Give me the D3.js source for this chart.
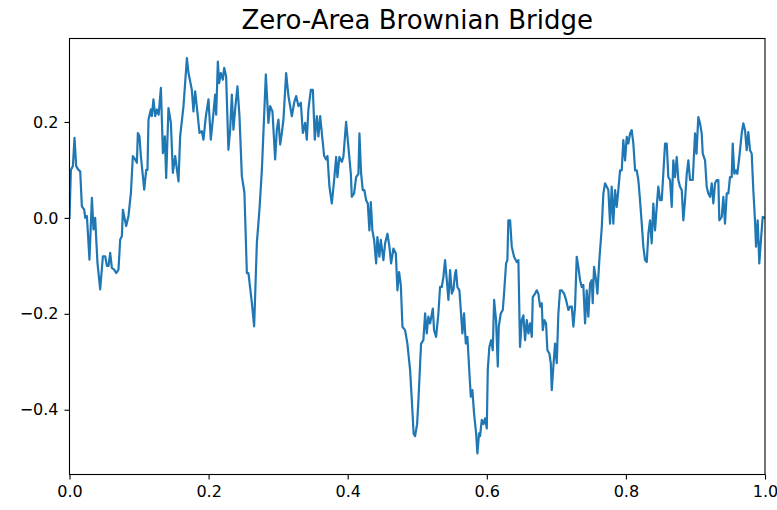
<!DOCTYPE html>
<html><head><meta charset="utf-8">
<script src="https://cdn.jsdelivr.net/npm/d3@7"></script>
<style>body{margin:0;background:#fff}svg{display:block}</style>
</head><body>
<script>
const chartTitle = "Zero-Area Brownian Bridge";
const xTicks = [0, 0.2, 0.4, 0.6, 0.8, 1.0];
const yTicks = [-0.4, -0.2, 0.0, 0.2];

const tValues = [
0,0.002,0.0049,0.0072,0.0096,0.0129,0.0154,0.0178,0.0211,0.0226,0.0250,0.0287,0.0322,0.0345,0.0369,0.0402,0.0441,0.0480,0.0513,0.0538,
0.0561,0.0585,0.0609,0.0643,0.0671,0.0704,0.0729,0.0753,0.0768,0.0791,0.0815,0.0848,0.0883,0.0911,0.0944,0.0969,0.0983,0.1006,0.1026,0.1055,
0.1074,0.1103,0.1121,0.1136,0.1170,0.1184,0.1207,0.1232,0.1256,0.1282,0.1314,0.1343,0.1371,0.1390,0.1423,0.1458,0.1486,0.1519,0.1567,0.1591,
0.1639,0.1688,0.1711,0.1759,0.1782,0.1807,0.1840,0.1869,0.1903,0.1926,0.1961,0.1998,0.2032,0.2070,0.2094,0.2109,0.2133,0.2152,0.2176,0.2205,
0.2224,0.2252,0.2285,0.2310,0.2334,0.2357,0.2386,0.2415,0.2444,0.2478,0.2501,0.2515,0.2550,0.2573,0.2622,0.2655,0.2694,0.2731,0.2766,0.2823,
0.2860,0.2885,0.2918,0.2957,0.2981,0.3004,0.3029,0.3053,0.3076,0.3115,0.3148,0.3197,0.3230,0.3259,0.3292,0.3326,0.3355,0.3388,0.3412,0.3435,
0.3470,0.3499,0.3527,0.3556,0.3579,0.3604,0.3628,0.3661,0.3690,0.3709,0.3737,0.3772,0.3805,0.3834,0.3852,0.3881,0.3916,0.3938,0.3977,0.4010,
0.4045,0.4059,0.4092,0.4121,0.4154,0.4169,0.4193,0.4217,0.4240,0.4265,0.4289,0.4312,0.4332,0.4355,0.4380,0.4409,0.4427,0.4456,0.4476,0.4513,
0.4538,0.4571,0.4600,0.4624,0.4657,0.4692,0.4715,0.4739,0.4764,0.4787,0.4825,0.4858,0.4897,0.4922,0.4948,0.4969,0.4998,0.5017,0.5055,0.5088,
0.5113,0.5137,0.5160,0.5185,0.5224,0.5242,0.5271,0.5304,0.5328,0.5353,0.5376,0.5400,0.5425,0.5448,0.5472,0.5497,0.5520,0.5544,0.5558,0.5577,
0.5606,0.5626,0.5649,0.5673,0.5698,0.5721,0.5750,0.5770,0.5793,0.5817,0.5846,0.5865,0.5889,0.5903,0.5928,0.5951,0.5975,0.6000,0.6014,0.6037,
0.6062,0.6086,0.6105,0.6133,0.6158,0.6172,0.6201,0.6230,0.6248,0.6277,0.6296,0.6310,0.6335,0.6359,0.6392,0.6431,0.6454,0.6478,0.6503,0.6526,
0.6550,0.6575,0.6598,0.6622,0.6647,0.6661,0.6694,0.6718,0.6741,0.6766,0.6790,0.6805,0.6828,0.6852,0.6871,0.6900,0.6920,0.6934,0.6957,0.6981,
0.7006,0.7029,0.7053,0.7078,0.7111,0.7140,0.7173,0.7197,0.7222,0.7245,0.7269,0.7293,0.7316,0.7341,0.7365,0.7388,0.7413,0.7437,0.7460,0.7485,
0.7509,0.7523,0.7542,0.7571,0.7590,0.7618,0.7653,0.7676,0.7700,0.7725,0.7748,0.7772,0.7796,0.7819,0.7844,0.7868,0.7891,0.7916,0.7940,0.7963,
0.7988,0.8012,0.8035,0.8060,0.8084,0.8107,0.8132,0.8156,0.8179,0.8203,0.8228,0.8251,0.8275,0.8300,0.8323,0.8347,0.8371,0.8394,0.8419,0.8443,
0.8466,0.8491,0.8515,0.8538,0.8563,0.8587,0.8610,0.8635,0.8659,0.8682,0.8706,0.8731,0.8754,0.8778,0.8803,0.8826,0.8850,0.8875,0.8898,0.8922,
0.8961,0.8994,0.9015,0.9041,0.9066,0.9090,0.9105,0.9138,0.9162,0.9185,0.9210,0.9234,0.9257,0.9281,0.9306,0.9329,0.9343,0.9378,0.9401,0.9425,
0.9450,0.9473,0.9497,0.9521,0.9536,0.9559,0.9583,0.9602,0.9631,0.9665,0.9688,0.9713,0.9737,0.9760,0.9785,0.9809,0.9832,0.9856,0.9871,0.9895,
0.9918,0.9938,0.9967,1.0
];

const bridgeValues = [
0,0.100,0.108,0.167,0.108,0.100,0.097,0.024,0.017,0.000,0.004,-0.087,0.042,-0.024,0.000,-0.094,-0.149,-0.080,-0.080,-0.100,
-0.100,-0.073,-0.104,-0.108,-0.115,-0.108,-0.045,-0.038,0.017,0.000,-0.017,0.004,0.052,0.129,0.122,0.115,0.177,0.170,0.129,0.087,
0.059,0.100,0.100,0.205,0.226,0.212,0.247,0.212,0.226,0.215,0.271,0.135,0.170,0.083,0.229,0.198,0.094,0.129,0.076,0.170,
0.233,0.333,0.302,0.267,0.222,0.264,0.219,0.177,0.181,0.163,0.212,0.247,0.163,0.219,0.257,0.215,0.326,0.281,0.302,0.288,
0.313,0.295,0.142,0.184,0.257,0.184,0.233,0.274,0.212,0.087,0.066,0.052,-0.115,-0.115,-0.177,-0.226,-0.052,0.017,0.100,0.299,
0.198,0.233,0.222,0.122,0.184,0.205,0.153,0.177,0.205,0.302,0.254,0.212,0.240,0.254,0.233,0.240,0.177,0.198,0.163,0.226,
0.267,0.267,0.163,0.212,0.170,0.212,0.177,0.129,0.122,0.129,0.066,0.030,0.079,0.127,0.085,0.127,0.117,0.127,0.200,0.148,
0.092,0.044,0.051,0.085,0.092,0.176,0.092,0.058,0.058,0.037,0.030,-0.026,0.033,-0.026,-0.046,-0.095,-0.040,-0.081,-0.046,-0.088,
-0.053,-0.033,-0.060,-0.095,-0.064,-0.074,-0.151,-0.113,-0.140,-0.227,-0.234,-0.262,-0.317,-0.380,-0.450,-0.455,-0.430,-0.380,-0.262,-0.255,
-0.199,-0.241,-0.206,-0.220,-0.189,-0.234,-0.248,-0.199,-0.144,-0.144,-0.123,-0.088,-0.130,-0.171,-0.109,-0.158,-0.150,-0.116,-0.109,-0.144,
-0.151,-0.192,-0.241,-0.199,-0.262,-0.248,-0.324,-0.373,-0.359,-0.408,-0.449,-0.491,-0.449,-0.455,-0.421,-0.430,-0.418,-0.439,-0.317,-0.269,
-0.255,-0.276,-0.171,-0.213,-0.310,-0.227,-0.199,-0.192,-0.158,-0.095,-0.088,-0.005,-0.005,-0.060,-0.081,-0.092,-0.088,-0.269,-0.213,-0.203,
-0.255,-0.213,-0.241,-0.220,-0.248,-0.165,-0.158,-0.151,-0.158,-0.185,-0.178,-0.234,-0.213,-0.220,-0.276,-0.283,-0.303,-0.359,-0.310,-0.262,
-0.303,-0.199,-0.151,-0.151,-0.158,-0.171,-0.192,-0.185,-0.185,-0.227,-0.185,-0.081,-0.102,-0.130,-0.144,-0.140,-0.220,-0.151,-0.206,-0.137,
-0.130,-0.178,-0.102,-0.130,-0.158,-0.088,-0.020,0.051,0.072,0.065,0.058,-0.012,0.065,-0.012,0.058,0.023,0.058,0.099,0.099,0.162,
0.120,0.169,0.155,0.176,0.183,0.155,0.099,0.099,0.079,0.037,-0.012,-0.060,-0.088,-0.092,-0.033,-0.005,-0.053,0.030,-0.026,0.023,
0.065,0.037,0.037,0.092,0.155,0.155,0.085,0.079,0.023,0.120,0.085,0.127,0.079,0.065,0.058,-0.005,0.037,0.092,0.120,0.079,
0.079,0.176,0.134,0.210,0.197,0.176,0.134,0.120,0.065,0.051,0.044,0.072,0.030,0.072,0.079,0.079,-0.005,0.002,0.044,-0.012,
0.051,0.051,0.085,0.085,0.155,0.092,0.099,0.092,0.127,0.176,0.197,0.183,0.141,0.179,0.141,0.134,0.058,-0.005,-0.060,-0.005,
-0.095,-0.053,0.002,0.000
];

const W = 777, H = 510;
const plot = {left: 69.5, right: 765, top: 38.5, bottom: 474.5};

const svg = d3.select("body").append("svg").attr("width", W).attr("height", H);

const x = d3.scaleLinear().domain([0, 1]).range([plot.left, plot.right]);
const y = d3.scaleLinear().domain([-0.535, 0.374]).range([plot.bottom, plot.top]);

const fmt = d => d3.format(".1f")(d).replace("-", "\u2212");

const data = tValues.map((t, i) => ({t, v: bridgeValues[i]}));

svg.append("defs").append("clipPath").attr("id", "clip")
  .append("rect").attr("x", plot.left).attr("y", plot.top)
  .attr("width", plot.right - plot.left).attr("height", plot.bottom - plot.top);

svg.append("path")
  .datum(data)
  .attr("clip-path", "url(#clip)")
  .attr("fill", "none")
  .attr("stroke", "#1f77b4")
  .attr("stroke-width", 2.2)
  .attr("stroke-linejoin", "round")
  .attr("stroke-linecap", "square")
  .attr("d", d3.line().x(d => x(d.t)).y(d => y(d.v)));

const xAxis = svg.append("g")
  .attr("transform", `translate(0,${plot.bottom})`)
  .call(d3.axisBottom(x).tickValues(xTicks).tickFormat(fmt).tickSize(5).tickPadding(6));
const yAxis = svg.append("g")
  .attr("transform", `translate(${plot.left},0)`)
  .call(d3.axisLeft(y).tickValues(yTicks).tickFormat(fmt).tickSize(5).tickPadding(6));

[xAxis, yAxis].forEach(g => {
  g.select(".domain").remove();
  g.selectAll(".tick line").attr("stroke", "#000").attr("stroke-width", 1.1);
  g.selectAll(".tick text").attr("fill", "#000")
    .style("font-family", "'DejaVu Sans', sans-serif").style("font-size", "16px");
});

svg.append("rect")
  .attr("x", plot.left).attr("y", plot.top)
  .attr("width", plot.right - plot.left).attr("height", plot.bottom - plot.top)
  .attr("fill", "none").attr("stroke", "#000").attr("stroke-width", 1.1);

svg.append("text")
  .attr("x", (plot.left + plot.right) / 2)
  .attr("y", 28.5)
  .attr("text-anchor", "middle")
  .style("font-family", "'DejaVu Sans', sans-serif")
  .style("font-size", "26px")
  .attr("fill", "#000")
  .text(chartTitle);
</script>
</body></html>
